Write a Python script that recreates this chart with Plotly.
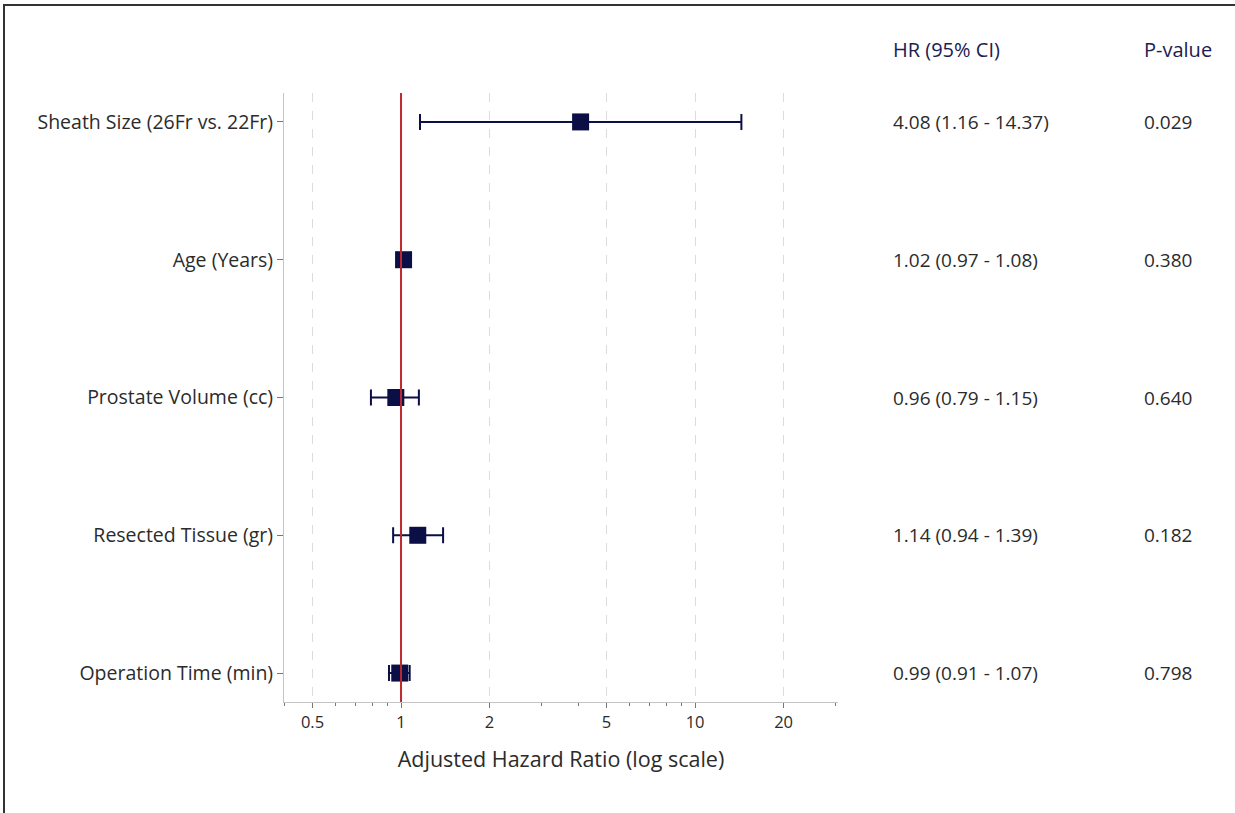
import plotly.graph_objects as go

categories = ["Sheath Size (26Fr vs. 22Fr)", "Age (Years)", "Prostate Volume (cc)",
              "Resected Tissue (gr)", "Operation Time (min)"]
hr = [4.08, 1.02, 0.96, 1.14, 0.99]
ci_low = [1.16, 0.97, 0.79, 0.94, 0.91]
ci_high = [14.37, 1.08, 1.15, 1.39, 1.07]
p_values = ["0.029", "0.380", "0.640", "0.182", "0.798"]
tick_vals = [0.5, 1, 2, 5, 10, 20]
tick_text = ["0.5", "1", "2", "5", "10", "20"]
minor_ticks = [0.4, 0.6, 0.7, 0.8, 0.9, 3, 4, 6, 7, 8, 9, 30]

W, H = 1235, 813
L, R, T, B = 284, 397, 93, 111
pw, ph = W - L - R, H - T - B

def px_x(p):
    return (p - L) / pw

def px_y(p):
    return (H - B - p) / ph

navy = "#0b0f45"
txt = "#2b2b2b"
font_family = "Open Sans, Roboto, sans-serif"

fig = go.Figure()
fig.add_trace(go.Scatter(
    x=hr, y=categories, mode="markers",
    marker=dict(symbol="square", size=17, color=navy),
    error_x=dict(type="data", symmetric=False,
                 array=[h - m for h, m in zip(ci_high, hr)],
                 arrayminus=[m - l for m, l in zip(hr, ci_low)],
                 color=navy, thickness=2, width=8),
    showlegend=False,
))

fig.add_shape(type="line", xref="x", yref="paper", x0=1, x1=1, y0=0, y1=1,
              line=dict(color="#bd2a2e", width=2), layer="above")

ann = []
for label, xp in [("HR (95% CI)", 891), ("P-value", 1142)]:
    ann.append(dict(x=px_x(xp), y=px_y(50), xref="paper", yref="paper", text=label,
                    showarrow=False, xanchor="left", yanchor="middle",
                    font=dict(size=20, color="#1c2050", family=font_family)))
for c, h, lo, hi, p in zip(categories, hr, ci_low, ci_high, p_values):
    ann.append(dict(x=px_x(891), y=c, xref="paper", yref="y",
                    text=f"{h:.2f} ({lo:.2f} - {hi:.2f})", showarrow=False,
                    xanchor="left", yanchor="middle",
                    font=dict(size=19, color=txt, family=font_family)))
    ann.append(dict(x=px_x(1142), y=c, xref="paper", yref="y", text=p, showarrow=False,
                    xanchor="left", yanchor="middle",
                    font=dict(size=19, color=txt, family=font_family)))

# partial frame (top and left edges)
fig.add_shape(type="line", xref="paper", yref="paper", x0=px_x(3), x1=px_x(1240),
              y0=px_y(5), y1=px_y(5), line=dict(color="#333333", width=2))
fig.add_shape(type="line", xref="paper", yref="paper", x0=px_x(4), x1=px_x(4),
              y0=px_y(4), y1=px_y(820), line=dict(color="#333333", width=2))

fig.update_layout(
    width=W, height=H,
    margin=dict(l=L, r=R, t=T, b=B),
    paper_bgcolor="white", plot_bgcolor="white",
    font=dict(family=font_family, color=txt),
    annotations=ann,
    xaxis=dict(type="log", range=[-0.398, 1.486],
               tickvals=tick_vals, ticktext=tick_text,
               showgrid=True, gridcolor="#dcdcdc", griddash="dash", gridwidth=1,
               showline=True, linecolor="#c4c4c4", linewidth=1,
               ticks="outside", ticklen=5, tickcolor="#777777",
               minor=dict(ticks="outside", ticklen=3, tickcolor="#777777", showgrid=False,
                          tickvals=minor_ticks),
               tickfont=dict(size=16.5, color=txt),
               title=dict(text="Adjusted Hazard Ratio (log scale)", standoff=20,
                          font=dict(size=21.5, color=txt)),
               zeroline=False),
    yaxis=dict(categoryorder="array", categoryarray=categories,
               range=[4.21, -0.21],
               showgrid=False, showline=True, linecolor="#c4c4c4", linewidth=1,
               ticks="outside", ticklen=6, tickcolor="#777777",
               tickfont=dict(size=19.5, color=txt),
               zeroline=False),
)

fig.write_html("out.html", config={"displayModeBar": False},
               post_script="document.body.style.margin='0px';document.body.style.overflow='hidden';")
